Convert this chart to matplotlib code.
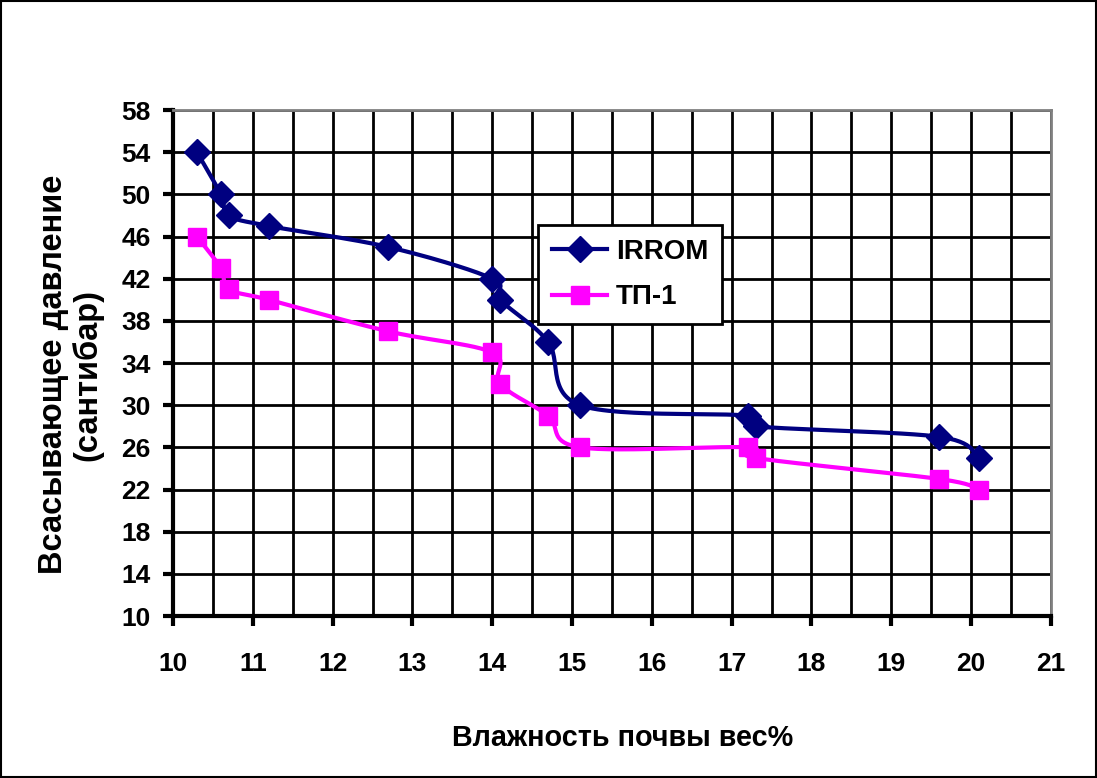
import numpy as np
import matplotlib.pyplot as plt
from matplotlib.patches import Rectangle

# Data
moisture = [10.3, 10.6, 10.7, 11.2, 12.7, 14.0, 14.1, 14.7, 15.1, 17.2, 17.3, 19.6, 20.1]
irrom = [54, 50, 48, 47, 45, 42, 40, 36, 30, 29, 28, 27, 25]
tp1 = [46, 43, 41, 40, 37, 35, 32, 29, 26, 26, 25, 23, 22]

x_ticks = list(range(10, 22))
y_ticks = list(range(10, 59, 4))


def smooth(xs, ys, n=30):
    # Excel-like smoothed line: cubic Bezier with Catmull-Rom control points
    p = np.column_stack([xs, ys]).astype(float)
    p = np.vstack([p[0], p, p[-1]])
    out = []
    t = np.linspace(0, 1, n)[:, None]
    for i in range(1, len(p) - 2):
        p0, p1, p2, p3 = p[i - 1], p[i], p[i + 1], p[i + 2]
        c1 = p1 + (p2 - p0) / 6
        c2 = p2 - (p3 - p1) / 6
        seg = ((1 - t) ** 3) * p1 + 3 * ((1 - t) ** 2) * t * c1 + 3 * (1 - t) * t ** 2 * c2 + t ** 3 * p2
        out.append(seg)
    seg = np.vstack(out)
    return seg[:, 0], seg[:, 1]


plt.rcParams['font.family'] = ['Liberation Sans', 'DejaVu Sans']
plt.rcParams['font.weight'] = 'bold'

fig = plt.figure(figsize=(10.97, 7.78), dpi=100)
ax = fig.add_axes([0.1577, 0.2082, 0.8003, 0.6504])

navy = '#000080'
magenta = '#FF00FF'

sx, sy = smooth(moisture, irrom)
ax.plot(sx, sy, color=navy, lw=3, zorder=3)
ax.plot(moisture, irrom, ls='none', marker='D', ms=13, color=navy, zorder=4)
sx, sy = smooth(moisture, tp1)
ax.plot(sx, sy, color=magenta, lw=3, zorder=3)
ax.plot(moisture, tp1, ls='none', marker='s', ms=13, color=magenta, zorder=4)

# legend proxies
ax.plot([], [], color=navy, lw=3, marker='D', ms=13, label='IRROM')
ax.plot([], [], color=magenta, lw=3, marker='s', ms=13, label='ТП-1')

ax.set_xlim(10, 21)
ax.set_ylim(10, 58)
ax.set_xticks(x_ticks)
ax.set_yticks(y_ticks)
ax.set_xticks(np.arange(10.5, 21, 1), minor=True)
ax.tick_params(axis='both', which='major', direction='out', length=7, width=3,
               labelsize=19)
ax.tick_params(axis='x', which='major', pad=19)
ax.tick_params(axis='y', which='major', pad=9)
ax.tick_params(axis='x', which='minor', length=0)
ax.grid(True, which='major', axis='both', color='black', lw=2, zorder=1)
ax.grid(True, which='minor', axis='x', color='black', lw=2, zorder=1)
ax.set_axisbelow(True)

for s in ['left', 'bottom']:
    ax.spines[s].set_linewidth(3)
    ax.spines[s].set_color('black')
for s in ['top', 'right']:
    ax.spines[s].set_linewidth(2)
    ax.spines[s].set_color('#808080')

for lbl in ax.get_xticklabels() + ax.get_yticklabels():
    lbl.set_fontweight('bold')

fig.text(0.568, 0.052, 'Влажность почвы вес%', ha='center', va='center',
         fontsize=20.7, fontweight='bold')
fig.text(0.0647, 0.5186, 'Всасывающее давление\n(сантибар)', ha='center', va='center',
         rotation=90, fontsize=23.5, fontweight='bold', linespacing=1.1)

leg = ax.legend(loc='upper left', bbox_to_anchor=(538 / 1097, 1 - 225 / 778),
                bbox_transform=fig.transFigure, borderaxespad=0, fontsize=20,
                frameon=True, fancybox=False, edgecolor='black', framealpha=1,
                handlelength=2.0, handletextpad=0.3, borderpad=0.5, labelspacing=0.7)
leg.get_frame().set_linewidth(2)
leg.set_zorder(5)
for t in leg.get_texts():
    t.set_fontweight('bold')

fig.add_artist(Rectangle((0.001, 0.001), 0.998, 0.998, transform=fig.transFigure,
                         fill=False, edgecolor='black', lw=1.5))

fig.savefig('out.png', dpi=100)
